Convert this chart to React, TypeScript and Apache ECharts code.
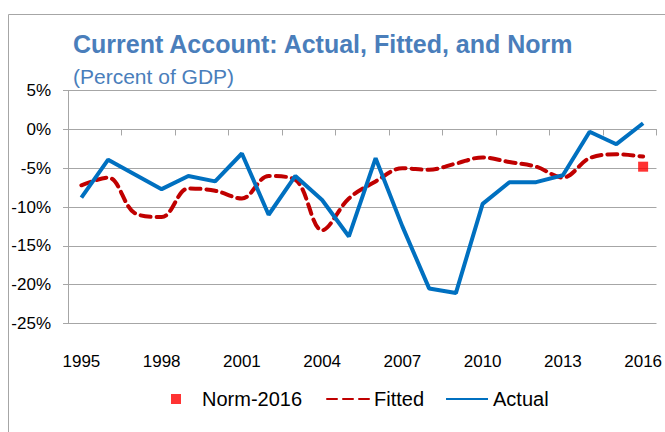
import React, { useEffect, useRef } from "react";
import * as echarts from "echarts";

const years = ["1995","1996","1997","1998","1999","2000","2001","2002","2003","2004","2005","2006","2007","2008","2009","2010","2011","2012","2013","2014","2015","2016"];
const actual = [-8.8,-3.9,-5.8,-7.7,-6.0,-6.7,-3.1,-11.0,-6.0,-9.1,-13.8,-3.7,-12.5,-20.5,-21.1,-9.6,-6.8,-6.8,-5.9,-0.3,-1.9,0.8];
const fitted = [-7.2,-6.2,-10.8,-11.3,-7.6,-7.9,-8.9,-6.0,-6.5,-13.0,-8.9,-6.7,-5.0,-5.2,-4.4,-3.6,-4.2,-4.8,-6.2,-3.7,-3.2,-3.5];
const normYear = "2016";
const normValue = -4.8;
const yMin = -25;
const yMax = 5;
const yStep = 5;

const FONT = "'Liberation Sans', Arial, sans-serif";

export default function App() {
  const ref = useRef<HTMLDivElement>(null);
  useEffect(() => {
    if (!ref.current) return;
    const chart = echarts.init(ref.current, null, { renderer: "svg" });
    const normData = years.map((y) => (y === normYear ? normValue : null));
    chart.setOption({
      animation: false,
      backgroundColor: "#ffffff",
      textStyle: { fontFamily: FONT },
      graphic: [
        {
          type: "rect",
          shape: { x: 8.5, y: 14.5, width: 700, height: 460 },
          style: { fill: "none", stroke: "#a6a6a6", lineWidth: 1 },
          silent: true,
        },
      ],
      title: [
        {
          text: "Current Account: Actual, Fitted, and Norm",
          left: 68,
          top: 26,
          textStyle: { color: "#4a7ebb", fontSize: 25, fontWeight: "bold", fontFamily: FONT },
        },
        {
          text: "(Percent of GDP)",
          left: 68,
          top: 61,
          textStyle: { color: "#4a7ebb", fontSize: 21, fontWeight: "normal", fontFamily: FONT },
        },
      ],
      legend: [
        {
          data: [{ name: "Norm-2016", icon: "path://M0,0H10V10H0Z" }],
          left: 166,
          top: 384,
          itemWidth: 42,
          itemHeight: 10,
          symbolKeepAspect: true,
          textStyle: { fontSize: 20, color: "#000", fontFamily: FONT },
        },
        {
          data: ["Fitted", "Actual"],
          left: 321,
          top: 384,
          itemWidth: 42,
          itemHeight: 10,
          itemGap: 21,
          itemStyle: { opacity: 0 },
          textStyle: { fontSize: 20, color: "#000", fontFamily: FONT },
        },
      ],
      grid: { left: 68, right: 7, top: 90.7, bottom: 108.7, containLabel: false },
      xAxis: [
        {
          type: "category",
          data: years,
          position: "bottom",
          boundaryGap: true,
          axisLine: { show: false, onZero: false },
          axisTick: { show: false },
          axisLabel: { interval: 2, fontSize: 17, color: "#000", margin: 30, fontFamily: FONT },
          splitLine: { show: false },
        },
        {
          type: "category",
          data: years,
          position: "bottom",
          boundaryGap: true,
          axisLine: { show: true, onZero: true, lineStyle: { color: "#a6a6a6", width: 1 } },
          axisTick: { show: true, length: 6, inside: false, lineStyle: { color: "#a6a6a6" } },
          axisLabel: { show: false },
          splitLine: { show: false },
        },
      ],
      yAxis: {
        type: "value",
        min: yMin,
        max: yMax,
        interval: yStep,
        axisLine: { show: true, lineStyle: { color: "#a6a6a6" } },
        axisTick: { show: true, length: 5, lineStyle: { color: "#a6a6a6" } },
        axisLabel: { formatter: "{value}%", fontSize: 17, color: "#000", margin: 17, fontFamily: FONT },
        splitLine: { show: true, lineStyle: { color: "#a6a6a6", width: 1 } },
      },
      series: [
        {
          name: "Norm-2016",
          type: "scatter",
          xAxisIndex: 0,
          data: normData,
          symbol: "rect",
          symbolSize: 10,
          itemStyle: { color: "#ff0000" },
          z: 5,
        },
        {
          name: "Fitted",
          type: "line",
          xAxisIndex: 0,
          data: fitted,
          smooth: 0.35,
          symbol: "none",
          lineStyle: { color: "#c00000", width: 4, type: [10, 6], cap: "round" },
          itemStyle: { color: "#c00000" },
          z: 3,
        },
        {
          name: "Actual",
          type: "line",
          xAxisIndex: 0,
          data: actual,
          symbol: "none",
          lineStyle: { color: "#0070c0", width: 4 },
          itemStyle: { color: "#0070c0" },
          z: 4,
        },
      ],
    });
    return () => chart.dispose();
  }, []);
  return (
    <div
      ref={ref}
      style={{ position: "fixed", left: 0, top: 0, width: 665, height: 432, background: "#fff" }}
    />
  );
}
